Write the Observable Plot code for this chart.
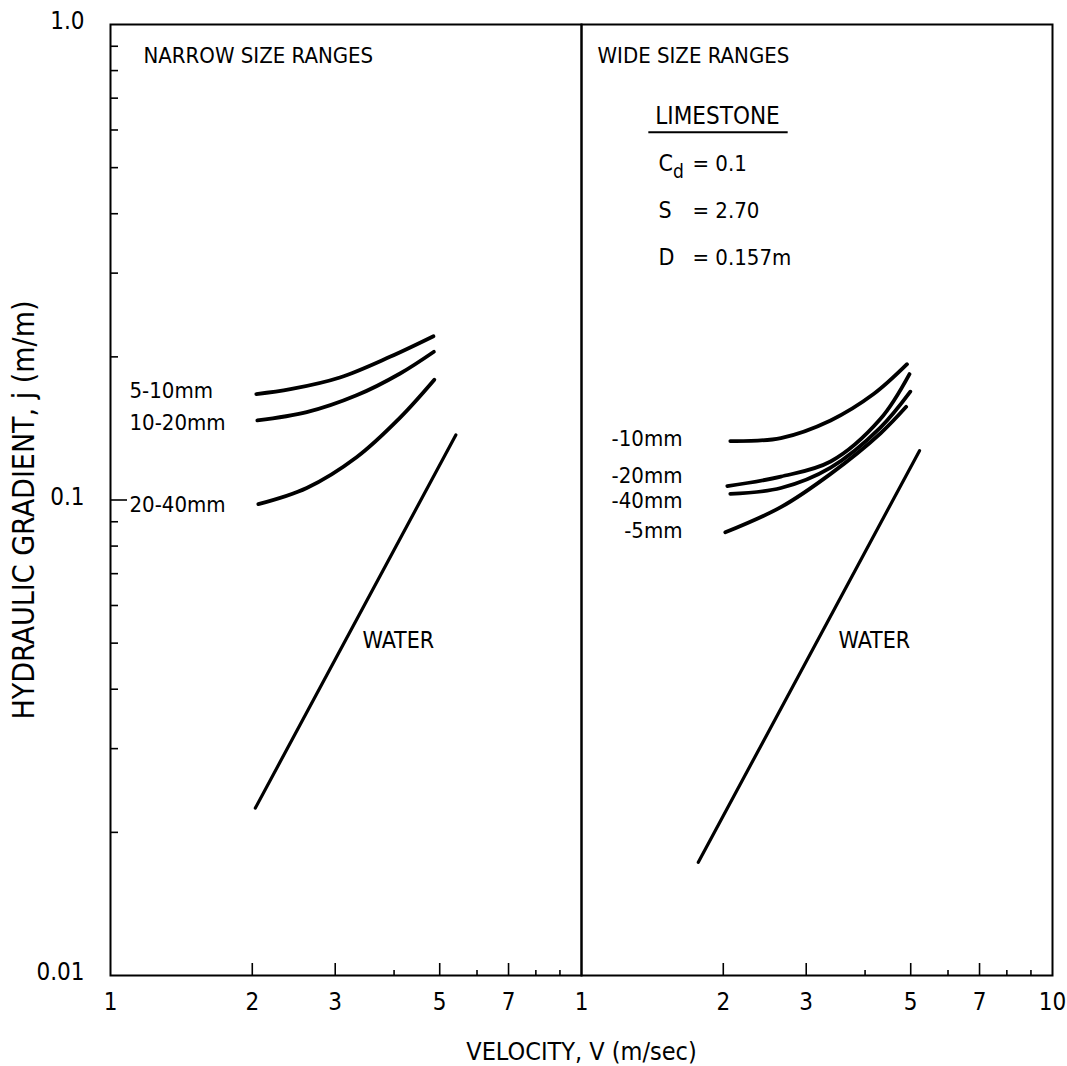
<!DOCTYPE html>
<html>
<head>
<meta charset="utf-8">
<script src="https://cdn.jsdelivr.net/npm/d3@7"></script>
<script src="https://cdn.jsdelivr.net/npm/@observablehq/plot@0.6"></script>
<style>
  html, body { margin: 0; padding: 0; background: #fff; }
  #chart svg { display: block; }
</style>
</head>
<body>
<div id="chart"></div>
<script>
// ---- panels ----
const panelKeys = ["narrow", "wide"];
const panelTitles = ["NARROW SIZE RANGES", "WIDE SIZE RANGES"];

// ---- narrow size ranges: velocity V (m/s) vs hydraulic gradient j (m/m) ----
const narrowLabels = ["5-10mm", "10-20mm", "20-40mm"];
const narrowV = [
  [2.04, 2.41, 3.07, 3.92, 4.85],
  [2.05, 2.61, 3.33, 4.12, 4.86],
  [2.06, 2.61, 3.33, 4.12, 4.87]
];
const narrowJ = [
  [0.167, 0.171, 0.181, 0.200, 0.221],
  [0.147, 0.153, 0.166, 0.1845, 0.205],
  [0.098, 0.106, 0.123, 0.149, 0.179]
];

// ---- wide size ranges ----
const wideLabels = ["-10mm", "-20mm", "-40mm", "-5mm"];
const wideV = [
  [2.07, 2.65, 3.38, 4.17, 4.91],
  [2.04, 2.65, 3.38, 4.31, 4.97],
  [2.07, 2.65, 3.38, 4.31, 4.99],
  [2.02, 2.65, 3.38, 4.31, 4.89]
];
const wideJ = [
  [0.133, 0.135, 0.147, 0.167, 0.193],
  [0.107, 0.112, 0.1205, 0.148, 0.184],
  [0.103, 0.106, 0.117, 0.142, 0.169],
  [0.0855, 0.0966, 0.1135, 0.138, 0.157]
];

// ---- clear water ----
const waterLabel = "WATER";
const waterNarrowV = [2.03, 5.41];
const waterNarrowJ = [0.0225, 0.137];
const waterWideV = [1.77, 5.22];
const waterWideJ = [0.0173, 0.127];

// ---- material properties ----
const materialName = "LIMESTONE";
const paramNames = ["Cd", "S", "D"];
const paramValues = ["0.1", "2.70", "0.157m"];

// ---- axes ----
const xTickLabelsNarrow = [1, 2, 3, 5, 7];
const xTickLabelsWide = [1, 2, 3, 5, 7, 10];
const xMajorTicks = [2, 3, 5, 7];
const xMinorTicks = [4, 6, 8, 9];
const yTickLabels = [0.01, 0.1, 1];
const yMajorTicks = [0.1];
const yMinorTicks = [0.02, 0.03, 0.04, 0.05, 0.06, 0.07, 0.08, 0.09,
                     0.2, 0.3, 0.4, 0.5, 0.6, 0.7, 0.8, 0.9];
const xTitle = "VELOCITY, V (m/sec)";
const yTitle = "HYDRAULIC GRADIENT, j (m/m)";

// ---- tables built from the arrays above ----
const curves = [];
narrowLabels.forEach((s, i) => narrowV[i].forEach((v, k) =>
  curves.push({panel: "narrow", series: s, V: v, j: narrowJ[i][k]})));
wideLabels.forEach((s, i) => wideV[i].forEach((v, k) =>
  curves.push({panel: "wide", series: s, V: v, j: wideJ[i][k]})));

const water = [
  ...waterNarrowV.map((v, k) => ({panel: "narrow", V: v, j: waterNarrowJ[k]})),
  ...waterWideV.map((v, k) => ({panel: "wide", V: v, j: waterWideJ[k]}))
];

const startOf = (panel, labels, V, J) =>
  labels.map((s, i) => ({panel, series: s, V: V[i][0], j: J[i][0]}));
const narrowStarts = startOf("narrow", narrowLabels, narrowV, narrowJ);
const wideStarts = startOf("wide", wideLabels, wideV, wideJ);

const xLabelRows = [
  ...xTickLabelsNarrow.map(v => ({panel: "narrow", v})),
  ...xTickLabelsWide.map(v => ({panel: "wide", v}))
];

// ---- layout ----
const W = 1067, H = 1066;
const M = {top: 24, right: 15, bottom: 91, left: 110};
const plotH = H - M.top - M.bottom;
const panelW = (W - M.left - M.right) / panelKeys.length;
const FONT = '"Liberation Sans Narrow", "DejaVu Sans Condensed", "Arial Narrow", "Roboto", sans-serif';

// small vertical nudges keeping the curve labels apart
const labelNudge = {"5-10mm": -3, "10-20mm": 3, "20-40mm": 1,
                    "-10mm": -2, "-20mm": -10, "-40mm": 7, "-5mm": -1};

const onPanel = p => () => p;
const txt = {lineAnchor: "middle", fill: "black"};

const chart = Plot.plot({
  width: W,
  height: H,
  marginTop: M.top,
  marginRight: M.right,
  marginBottom: M.bottom,
  marginLeft: M.left,
  style: {fontFamily: FONT, background: "white", color: "black", fontStretch: "condensed"},
  fx: {domain: panelKeys, padding: 0, axis: null},
  x: {type: "log", domain: [1, 10], axis: null},
  y: {type: "log", domain: [0.01, 1], axis: null},
  marks: [
    // inward tick marks
    Plot.tickX(xMajorTicks, {x: d => d, insetTop: plotH - 12, stroke: "black", strokeWidth: 1.6}),
    Plot.tickX(xMinorTicks, {x: d => d, insetTop: plotH - 5, stroke: "black", strokeWidth: 1.6}),
    Plot.tickY(yMinorTicks, {y: d => d, fx: onPanel("narrow"), insetRight: panelW - 8, stroke: "black", strokeWidth: 1.6}),
    Plot.tickY(yMajorTicks, {y: d => d, fx: onPanel("narrow"), insetRight: panelW - 17, stroke: "black", strokeWidth: 1.6}),

    Plot.frame({stroke: "black", strokeWidth: 2}),

    // gradient curves
    Plot.line(curves, {x: "V", y: "j", z: "series", fx: "panel", curve: "catmull-rom",
      stroke: "black", strokeWidth: 3.8, strokeLinecap: "round"}),
    Plot.line(water, {x: "V", y: "j", z: "panel", fx: "panel",
      stroke: "black", strokeWidth: 3.2, strokeLinecap: "round"}),

    // curve labels, level with the start of each curve
    ...narrowStarts.map(d => Plot.text([d], {...txt, y: "j", fx: "panel", text: "series",
      frameAnchor: "left", dx: 19, dy: labelNudge[d.series], textAnchor: "start", fontSize: 22})),
    ...wideStarts.map(d => Plot.text([d], {...txt, y: "j", fx: "panel", text: "series",
      frameAnchor: "left", dx: 101, dy: labelNudge[d.series], textAnchor: "end", fontSize: 22})),
    Plot.text([waterLabel], {...txt, fx: onPanel("narrow"), frameAnchor: "top-left", dx: 252, dy: 616,
      textAnchor: "start", fontSize: 23}),
    Plot.text([waterLabel], {...txt, fx: onPanel("wide"), frameAnchor: "top-left", dx: 257, dy: 616,
      textAnchor: "start", fontSize: 23}),

    // panel titles
    Plot.text([panelTitles[0]], {...txt, fx: onPanel("narrow"), frameAnchor: "top-left", dx: 33, dy: 31,
      textAnchor: "start", fontSize: 22}),
    Plot.text([panelTitles[1]], {...txt, fx: onPanel("wide"), frameAnchor: "top-left", dx: 16, dy: 31,
      textAnchor: "start", fontSize: 22}),

    // material block
    Plot.text([materialName], {...txt, fx: onPanel("wide"), frameAnchor: "top-left", dx: 136, dy: 92,
      textAnchor: "middle", fontSize: 24}),
    ...paramNames.map((n, i) => Plot.text([n], {...txt, fx: onPanel("wide"), frameAnchor: "top-left",
      dx: 77, dy: 139 + i * 47, textAnchor: "start", fontSize: 23})),
    ...paramValues.map((v, i) => Plot.text(["= " + v], {...txt, fx: onPanel("wide"), frameAnchor: "top-left",
      dx: 111, dy: 139 + i * 47, textAnchor: "start", fontSize: 22})),

    // tick labels
    Plot.text(xLabelRows, {...txt, x: "v", fx: "panel", text: d => String(d.v), frameAnchor: "bottom",
      dy: 27, fontSize: 24}),
    Plot.text(yTickLabels, {...txt, y: d => d, fx: onPanel("narrow"), frameAnchor: "left", dx: -26, dy: -3,
      textAnchor: "end", text: d => (d === 1 ? "1.0" : String(d)), fontSize: 24}),

    // axis titles
    Plot.text([xTitle], {...txt, fx: onPanel("wide"), frameAnchor: "bottom-left", dy: 76,
      textAnchor: "middle", fontSize: 25}),
    Plot.text([yTitle], {...txt, fx: onPanel("narrow"), frameAnchor: "left", dx: -86, dy: 10,
      rotate: -90, textAnchor: "middle", fontSize: 30})
  ]
});

document.getElementById("chart").append(chart);

// subscript d in Cd, underline under the material name
const svg = d3.select(chart);
svg.selectAll("text").filter(function () { return this.textContent === "Cd"; }).each(function () {
  const t = d3.select(this);
  t.text(null);
  t.append("tspan").text("C");
  t.append("tspan").attr("dy", 7).attr("font-size", 19).text("d");
});
svg.selectAll("text").filter(function () { return this.textContent === materialName; }).each(function () {
  const b = this.getBBox();
  const yLine = b.y + b.height + 2;
  d3.select(this.parentNode).append("line")
    .attr("transform", this.getAttribute("transform"))
    .attr("x1", b.x - 7).attr("x2", b.x + b.width + 8)
    .attr("y1", yLine).attr("y2", yLine)
    .attr("stroke", "black").attr("stroke-width", 2);
});
</script>
</body>
</html>
